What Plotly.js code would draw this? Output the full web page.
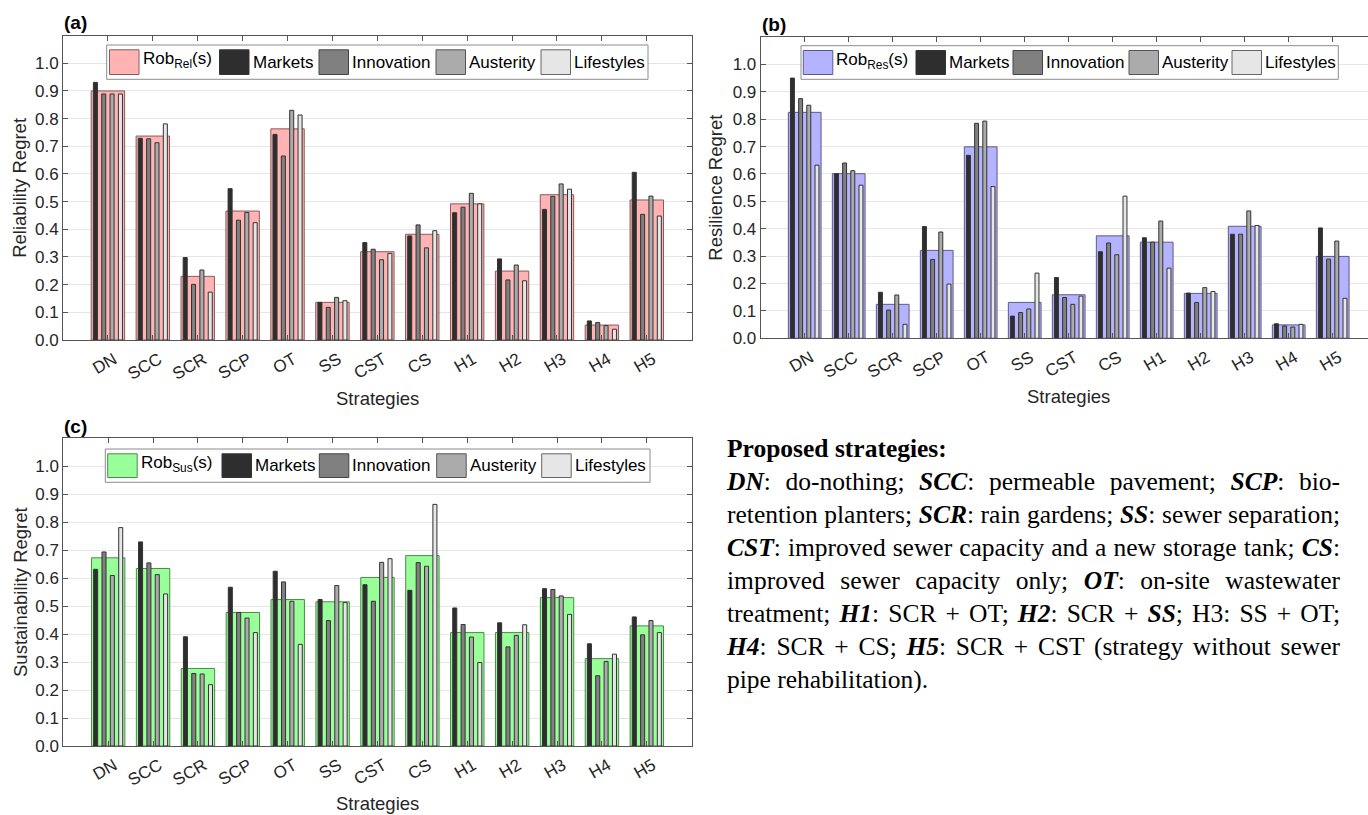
<!DOCTYPE html>
<html>
<head>
<meta charset="utf-8">
<script src="https://cdn.plot.ly/plotly-3.0.1.min.js"></script>
<style>
  html, body { margin:0; padding:0; background:#fff; overflow:hidden; }
  #chart { position:absolute; left:0; top:0; width:1385px; height:815px; }
  #txt { position:absolute; left:727px; top:432px; width:613px;
         font-family:"Liberation Serif", serif; font-size:25.5px;
         line-height:33px; color:#000; }
  #txt .h { font-weight:bold; }
  #txt .j { text-align:justify; text-align-last:justify; white-space:nowrap; }
  #txt .l { text-align:left; white-space:nowrap; }
  #txt b { font-style:italic; }
</style>
</head>
<body>
<div id="chart"></div>
<div id="txt">
  <div class="h">Proposed strategies:</div>
  <div class="j"><b>DN</b>: do-nothing; <b>SCC</b>: permeable pavement; <b>SCP</b>: bio-</div>
  <div class="j">retention planters; <b>SCR</b>: rain gardens; <b>SS</b>: sewer separation;</div>
  <div class="j"><b>CST</b>: improved sewer capacity and a new storage tank; <b>CS</b>:</div>
  <div class="j">improved sewer capacity only; <b>OT</b>: on-site wastewater</div>
  <div class="j">treatment; <b>H1</b>: SCR + OT; <b>H2</b>: SCR + <b>SS</b>; H3: SS + OT;</div>
  <div class="j"><b>H4</b>: SCR + CS; <b>H5</b>: SCR + CST (strategy without sewer</div>
  <div class="l">pipe rehabilitation).</div>
</div>
<script>
// ---------- data ----------
const categories = ['DN','SCC','SCR','SCP','OT','SS','CST','CS','H1','H2','H3','H4','H5'];
const scenarios = ['Markets','Innovation','Austerity','Lifestyles'];
const yTickValues = [0,0.1,0.2,0.3,0.4,0.5,0.6,0.7,0.8,0.9,1.0];

// (a) Reliability regret
const relRob        = [0.900,0.737,0.230,0.466,0.763,0.136,0.319,0.382,0.492,0.249,0.525,0.054,0.506];
const relMarkets    = [0.931,0.729,0.298,0.547,0.743,0.136,0.352,0.376,0.460,0.293,0.472,0.069,0.606];
const relInnovation = [0.889,0.727,0.201,0.433,0.665,0.118,0.328,0.416,0.480,0.217,0.519,0.063,0.454];
const relAusterity  = [0.889,0.713,0.253,0.461,0.830,0.154,0.290,0.333,0.530,0.271,0.564,0.052,0.520];
const relLifestyles = [0.889,0.781,0.173,0.424,0.813,0.142,0.313,0.395,0.492,0.214,0.545,0.039,0.448];

// (b) Resilience regret
const resRob        = [0.825,0.601,0.124,0.321,0.699,0.131,0.159,0.374,0.351,0.164,0.409,0.049,0.299];
const resMarkets    = [0.950,0.601,0.168,0.408,0.668,0.081,0.222,0.316,0.367,0.165,0.380,0.053,0.403];
const resInnovation = [0.875,0.640,0.103,0.288,0.785,0.094,0.149,0.348,0.351,0.131,0.380,0.045,0.289];
const resAusterity  = [0.851,0.612,0.158,0.388,0.793,0.107,0.124,0.305,0.428,0.185,0.465,0.041,0.355];
const resLifestyles = [0.632,0.559,0.051,0.198,0.554,0.238,0.154,0.519,0.256,0.171,0.412,0.051,0.146];

// (c) Sustainability regret
const susRob        = [0.672,0.634,0.277,0.477,0.523,0.515,0.602,0.680,0.405,0.405,0.530,0.312,0.429];
const susMarkets    = [0.631,0.729,0.390,0.567,0.624,0.523,0.576,0.556,0.493,0.440,0.562,0.365,0.461];
const susInnovation = [0.693,0.654,0.259,0.477,0.586,0.448,0.517,0.655,0.434,0.354,0.559,0.251,0.397];
const susAusterity  = [0.609,0.612,0.257,0.457,0.517,0.573,0.656,0.642,0.389,0.395,0.536,0.302,0.448];
const susLifestyles = [0.780,0.543,0.219,0.405,0.363,0.512,0.669,0.863,0.298,0.433,0.470,0.328,0.405];

// ---------- styling ----------
const W = 1385, H = 815;
const FONT = 'Liberation Sans, Arial, sans-serif';
const TXT = '#262626';
const scenColors = ['#2e2e2e','#808080','#ababab','#e6e6e6'];
const scenCenters = [-0.279,-0.093,0.093,0.279];
const thinW = 0.09, wideW = 0.744;
const px = x => x / W;
const py = y => 1 - y / H;

const panels = [
  {rob: relRob, sc:[relMarkets,relInnovation,relAusterity,relLifestyles], robName:'Rob<sub>Rel</sub>(s)',
   fill:'#ffb3b3', edge:'#8a5a5a', ax:'', xd:[63,691.7], yd:[340,35.6],
   ytitle:'Reliability Regret', ytx:20, xtitleY:398, label:'(a)', labelXY:[75,23],
   leg:{box:[106.7,648,45,79.3], sw:[109.5,219.5,319,436,541]}},
  {rob: resRob, sc:[resMarkets,resInnovation,resAusterity,resLifestyles], robName:'Rob<sub>Res</sub>(s)',
   fill:'#b3b3ff', edge:'#5a5a8a', ax:'2', xd:[760.7,1376.7], yd:[338.3,37],
   ytitle:'Resilience Regret', ytx:716, xtitleY:396, label:'(b)', labelXY:[774,24],
   leg:{box:[801,1338.3,45.7,79.3], sw:[803.3,916,1013,1129,1232]}},
  {rob: susRob, sc:[susMarkets,susInnovation,susAusterity,susLifestyles], robName:'Rob<sub>Sus</sub>(s)',
   fill:'#99ff99', edge:'#4a8a4a', ax:'3', xd:[63.3,691.7], yd:[746,438],
   ytitle:'Sustainability Regret', ytx:20, xtitleY:803, label:'(c)', labelXY:[75,426],
   leg:{box:[105.3,650,449,482.3], sw:[107.7,222,319.3,436.7,541.7]}}
];

const xs = categories.map((c,i) => i + 1);
const traces = [];
const layout = {
  width: W, height: H, margin:{l:0,r:0,t:0,b:0}, paper_bgcolor:'#fff', plot_bgcolor:'#fff',
  barmode:'overlay', showlegend:false, font:{family:FONT, color:TXT},
  shapes:[], annotations:[]
};

panels.forEach(p => {
  const xa = 'x' + p.ax, ya = 'y' + p.ax;
  traces.push({type:'bar', x:xs, y:p.rob, xaxis:xa, yaxis:ya, width:wideW, offset:-wideW/2,
    marker:{color:p.fill, line:{color:p.edge, width:1}}, hoverinfo:'skip'});
  p.sc.forEach((vals, k) => {
    traces.push({type:'bar', x:xs, y:vals, xaxis:xa, yaxis:ya, width:thinW,
      offset:scenCenters[k] - thinW/2,
      marker:{color:scenColors[k], line:{color:'#333', width:1}}, hoverinfo:'skip'});
  });
  const xKey = 'xaxis' + p.ax, yKey = 'yaxis' + p.ax;
  layout[xKey] = {
    domain:[px(p.xd[0]), px(p.xd[1])], range:[0,14], anchor:ya,
    tickmode:'array', tickvals:xs, ticktext:categories, tickangle:-30,
    ticklabelshift:6, ticklabelstandoff:2,
    ticks:'inside', ticklen:5, tickcolor:'#555', showline:true, linecolor:'#555', linewidth:1,
    mirror:'ticks', showgrid:false, zeroline:false,
    tickfont:{family:FONT, size:17, color:TXT}, fixedrange:true
  };
  layout[yKey] = {
    domain:[py(p.yd[0]), py(p.yd[1])], range:[0,1.1], anchor:xa,
    tickmode:'array', tickvals:yTickValues, tickformat:'.1f',
    ticks:'inside', ticklen:5, tickcolor:'#555', showline:true, linecolor:'#555', linewidth:1,
    mirror:'ticks', showgrid:true, gridcolor:'#e6e6e6', zeroline:false,
    tickfont:{family:FONT, size:17, color:TXT}, fixedrange:true
  };
  // axis titles
  layout.annotations.push({xref:'paper', yref:'paper', x:px(p.ytx), y:py((p.yd[0]+p.yd[1])/2),
    text:p.ytitle, textangle:-90, showarrow:false, xanchor:'center', yanchor:'middle',
    font:{family:FONT, size:18.5, color:TXT}});
  layout.annotations.push({xref:'paper', yref:'paper', x:px((p.xd[0]+p.xd[1])/2), y:py(p.xtitleY),
    text:'Strategies', showarrow:false, xanchor:'center', yanchor:'middle',
    font:{family:FONT, size:18.5, color:TXT}});
  layout.annotations.push({xref:'paper', yref:'paper', x:px(p.labelXY[0]), y:py(p.labelXY[1]),
    text:p.label, showarrow:false, xanchor:'center', yanchor:'middle',
    font:{family:FONT, size:19, color:'#000', weight:'bold'}});
  // legend (drawn as shapes + text, matching the boxed MATLAB legend)
  const b = p.leg.box;
  layout.shapes.push({type:'rect', xref:'paper', yref:'paper', x0:px(b[0]), x1:px(b[1]), y0:py(b[2]), y1:py(b[3]),
    fillcolor:'#fff', line:{color:'#8c8c8c', width:1}, layer:'above'});
  const names = [p.robName].concat(scenarios);
  const cols = [p.fill].concat(scenColors);
  const edges = [p.edge,'#333','#444','#555','#666'];
  const sy0 = b[2] + 4.8, sy1 = b[3] - 4.8;
  p.leg.sw.forEach((sx, k) => {
    layout.shapes.push({type:'rect', xref:'paper', yref:'paper', x0:px(sx), x1:px(sx+29.5),
      y0:py(sy0), y1:py(sy1), fillcolor:cols[k], line:{color:edges[k], width:1}, layer:'above'});
    layout.annotations.push({xref:'paper', yref:'paper', x:px(sx+31), y:py((sy0+sy1)/2 - (k===0?2:0)),
      text:names[k], showarrow:false, xanchor:'left', yanchor:'middle',
      font:{family:FONT, size:17, color:'#000'}});
  });
});

Plotly.newPlot('chart', traces, layout, {staticPlot:true, displayModeBar:false});
</script>
</body>
</html>
